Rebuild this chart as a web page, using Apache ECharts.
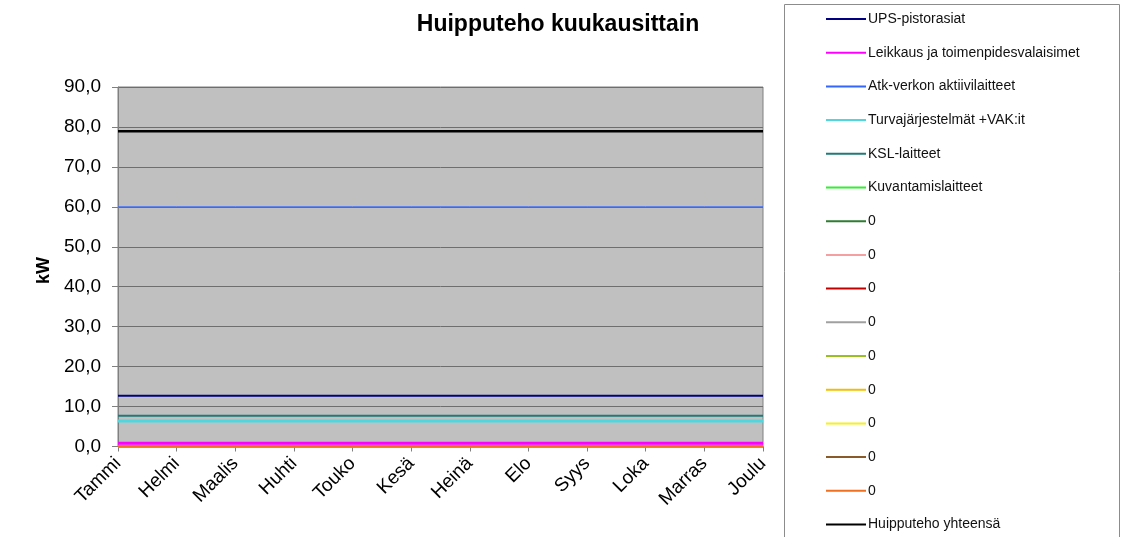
<!DOCTYPE html>
<html>
<head>
<meta charset="utf-8">
<script src="https://cdn.jsdelivr.net/npm/echarts@6/dist/echarts.min.js"></script>
<style>
  html, body { margin: 0; padding: 0; background: #fff; }
  #main { width: 1125px; height: 537px; }
</style>
</head>
<body>
<div id="main"></div>
<script>
// kuukaudet
var months = ['Tammi', 'Helmi', 'Maalis', 'Huhti', 'Touko', 'Kesä', 'Heinä', 'Elo', 'Syys', 'Loka', 'Marras', 'Joulu'];

// sarjojen nimet legendassa
var legendLabels = ['UPS-pistorasiat', 'Leikkaus ja toimenpidesvalaisimet', 'Atk-verkon aktiivilaitteet',
  'Turvajärjestelmät +VAK:it', 'KSL-laitteet', 'Kuvantamislaitteet',
  '0', '0', '0', '0', '0', '0', '0', '0', '0', 'Huipputeho yhteensä'];

// arvot (kW)
var ups      = [12.7, 12.7, 12.7, 12.7, 12.7, 12.7, 12.7, 12.7, 12.7, 12.7, 12.7, 12.7];
var leikkaus = [0.8, 0.8, 0.8, 0.8, 0.8, 0.8, 0.8, 0.8, 0.8, 0.8, 0.8, 0.8];
var atk      = [60, 60, 60, 60, 60, 60, 60, 60, 60, 60, 60, 60];
var turva    = [6.4, 6.4, 6.4, 6.4, 6.4, 6.4, 6.4, 6.4, 6.4, 6.4, 6.4, 6.4];
var ksl      = [7.7, 7.7, 7.7, 7.7, 7.7, 7.7, 7.7, 7.7, 7.7, 7.7, 7.7, 7.7];
var kuvant   = [0, 0, 0, 0, 0, 0, 0, 0, 0, 0, 0, 0];
var tyhja    = [0, 0, 0, 0, 0, 0, 0, 0, 0, 0, 0, 0];
var yhteensa = [78.9, 78.9, 78.9, 78.9, 78.9, 78.9, 78.9, 78.9, 78.9, 78.9, 78.9, 78.9];

var seriesData = [ups, leikkaus, atk, turva, ksl, kuvant,
  tyhja, tyhja, tyhja, tyhja, tyhja, tyhja, tyhja, tyhja, tyhja, yhteensa];

var colors = ['#000080', '#ff00ff', '#3366ff', '#4dd8e0', '#1f7a7a', '#33ee33',
  '#2e7d32', '#f4a0a0', '#c00000', '#a0a0a0', '#99c020', '#f0c000', '#f8f020', '#8b5a2b', '#f07020', '#000000'];
var widths = [2, 3, 1, 3, 2, 2, 2, 2, 2, 2, 2, 2, 2, 2, 2, 2.5];

var chart = echarts.init(document.getElementById('main'));

var series = seriesData.map(function (d, i) {
  return {
    name: 's' + i,
    type: 'line',
    data: d,
    symbol: 'none',
    lineStyle: { color: colors[i], width: widths[i] },
    itemStyle: { color: colors[i] }
  };
});

chart.setOption({
  animation: false,
  title: {
    text: 'Huipputeho kuukausittain',
    left: 553,
    textAlign: 'center',
    top: 8,
    textStyle: { fontFamily: 'Liberation Sans, Arial', fontSize: 23, fontWeight: 'bold', color: '#000' }
  },
  graphic: [{
    type: 'rect',
    shape: { x: 784.5, y: 4.5, width: 335, height: 540 },
    style: { fill: 'none', stroke: '#8c8c8c', lineWidth: 1 },
    z: 0
  }, {
    type: 'text',
    left: 35,
    top: 257,
    rotation: Math.PI / 2,
    style: { text: 'kW', font: 'bold 18px "Liberation Sans", Arial', fill: '#000' }
  }],
  legend: {
    orient: 'vertical',
    left: 821,
    top: 6,
    height: 700,
    icon: 'rect',
    itemWidth: 40,
    itemHeight: 2,
    itemGap: 17.7,
    data: series.map(function (s) { return s.name; }),
    formatter: function (name) { return legendLabels[+name.slice(1)]; },
    textStyle: { fontFamily: 'Liberation Sans, Arial', fontSize: 14, lineHeight: 16, color: '#111', padding: [0, 0, 0, -3] }
  },
  grid: {
    left: 118, right: 362, top: 87, bottom: 90.5,
    show: true,
    backgroundColor: '#c0c0c0',
    borderColor: '#808080',
    borderWidth: 1
  },
  xAxis: {
    type: 'category',
    data: months,
    boundaryGap: false,
    axisLine: { lineStyle: { color: '#808080' } },
    axisTick: { show: true, length: 5, lineStyle: { color: '#808080' } },
    axisLabel: { rotate: 45, margin: 14, fontFamily: 'Liberation Sans, Arial', fontSize: 19, color: '#000', interval: 0 },
    splitLine: { show: false }
  },
  yAxis: {
    type: 'value',
    min: 0, max: 90, interval: 10,
    axisLine: { show: true, lineStyle: { color: '#808080' } },
    axisTick: { show: true, length: 6, lineStyle: { color: '#808080' } },
    axisLabel: {
      margin: 17,
      fontFamily: 'Liberation Sans, Arial', fontSize: 19, color: '#000',
      formatter: function (v) { return v.toFixed(1).replace('.', ','); }
    },
    splitLine: { lineStyle: { color: '#6e6e6e', width: 1 } }
  },
  series: series
});
</script>
</body>
</html>
